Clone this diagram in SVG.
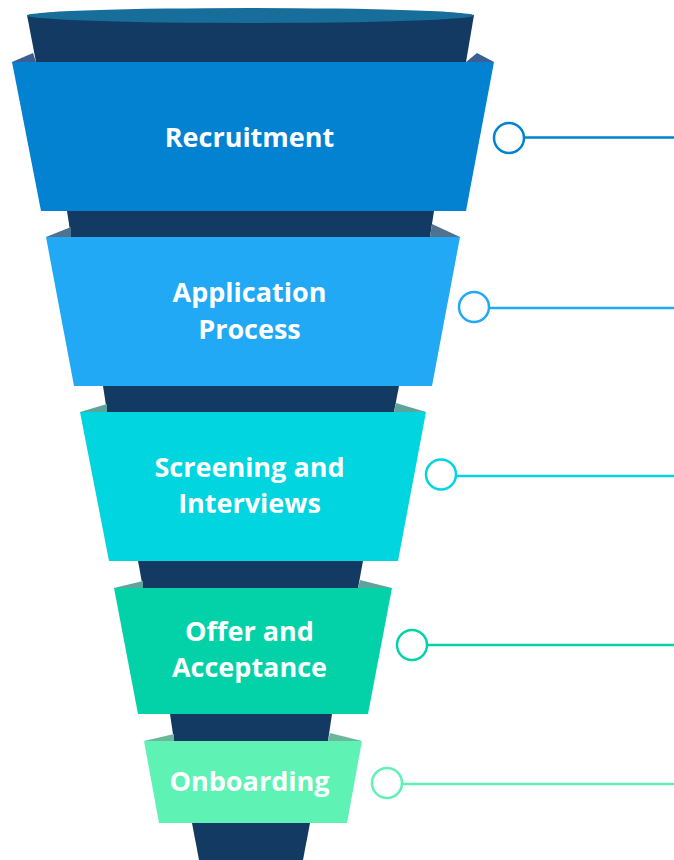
<svg xmlns="http://www.w3.org/2000/svg" width="674" height="860" viewBox="0 0 674 860">
<style>
.neck{fill:#123a63}
.lbl{font-family:"Open Sans","Noto Sans",sans-serif;font-weight:700;font-size:27px;fill:#ffffff;text-anchor:middle}
.dot{fill:#ffffff;stroke-width:2.5}
.ln{stroke-width:2.5;fill:none}
</style>
<rect width="674" height="860" fill="#ffffff"/>
<g id="funnel-body">
<polygon class="neck" points="27,15 474,15 466,62 36,62"/>
<ellipse cx="250.5" cy="15.5" rx="223.5" ry="7.5" fill="#176e9b"/>
<polygon class="neck" points="67,211 434,211 430,237 71,237"/>
<polygon class="neck" points="103,386 399,386 394,412 107,412"/>
<polygon class="neck" points="138,561 363,561 358,588 143,588"/>
<polygon class="neck" points="170,714 332,714 328,741 174,741"/>
<polygon class="neck" points="192,823 310,823 303,860 199,860"/>
</g>
<g id="recruitment">
<polygon points="12,62 33,53 36,62" fill="#3b5f94"/>
<polygon points="494,62 477,53 466,62" fill="#3b5f94"/>
<polygon points="12,62 494,62 466,211 41,211" fill="#0282d0"/>
<text class="lbl" x="249.5" y="147">Recruitment</text>
</g>
<g id="application">
<polygon points="46,237 71,227 71,237" fill="#4e7290"/>
<polygon points="460,237 432,224 430,237" fill="#4e7290"/>
<polygon points="46,237 460,237 432,386 74,386" fill="#21a9f5"/>
<text class="lbl" x="249.5" y="302">Application</text>
<text class="lbl" x="249.5" y="339">Process</text>
</g>
<g id="screening">
<polygon points="80,412 107,404 107,412" fill="#5ba59c"/>
<polygon points="426,412 396,403 394,412" fill="#5ba59c"/>
<polygon points="80,412 426,412 398,561 109,561" fill="#00d5e0"/>
<text class="lbl" x="249.5" y="477">Screening and</text>
<text class="lbl" x="249.5" y="513">Interviews</text>
</g>
<g id="offer">
<polygon points="114,588 143,581 143,588" fill="#5ba59c"/>
<polygon points="392,588 360,580 358,588" fill="#5ba59c"/>
<polygon points="114,588 392,588 368,714 138,714" fill="#03d2a9"/>
<text class="lbl" x="249.5" y="641">Offer and</text>
<text class="lbl" x="249.5" y="677">Acceptance</text>
</g>
<g id="onboarding">
<polygon points="144,741 174,734 174,741" fill="#6cb79c"/>
<polygon points="362,741 330,733 328,741" fill="#6cb79c"/>
<polygon points="144,741 362,741 347,823 159,823" fill="#5ff2b5"/>
<text class="lbl" x="249.5" y="791">Onboarding</text>
</g>
<g id="connectors">
<line class="ln" x1="524" y1="137.5" x2="674" y2="137.5" stroke="#0282d0"/>
<circle class="dot" cx="509" cy="138" r="15" stroke="#0282d0"/>
<line class="ln" x1="489" y1="308" x2="674" y2="308" stroke="#21a9f5"/>
<circle class="dot" cx="474" cy="307" r="15" stroke="#21a9f5"/>
<line class="ln" x1="456" y1="476" x2="674" y2="476" stroke="#00d5e0"/>
<circle class="dot" cx="441" cy="474.5" r="15" stroke="#00d5e0"/>
<line class="ln" x1="427" y1="645" x2="674" y2="645" stroke="#03d2a9"/>
<circle class="dot" cx="412" cy="645" r="15" stroke="#03d2a9"/>
<line class="ln" x1="402" y1="784" x2="674" y2="784" stroke="#5ff2b5"/>
<circle class="dot" cx="387" cy="783" r="15" stroke="#5ff2b5"/>
</g>
</svg>
